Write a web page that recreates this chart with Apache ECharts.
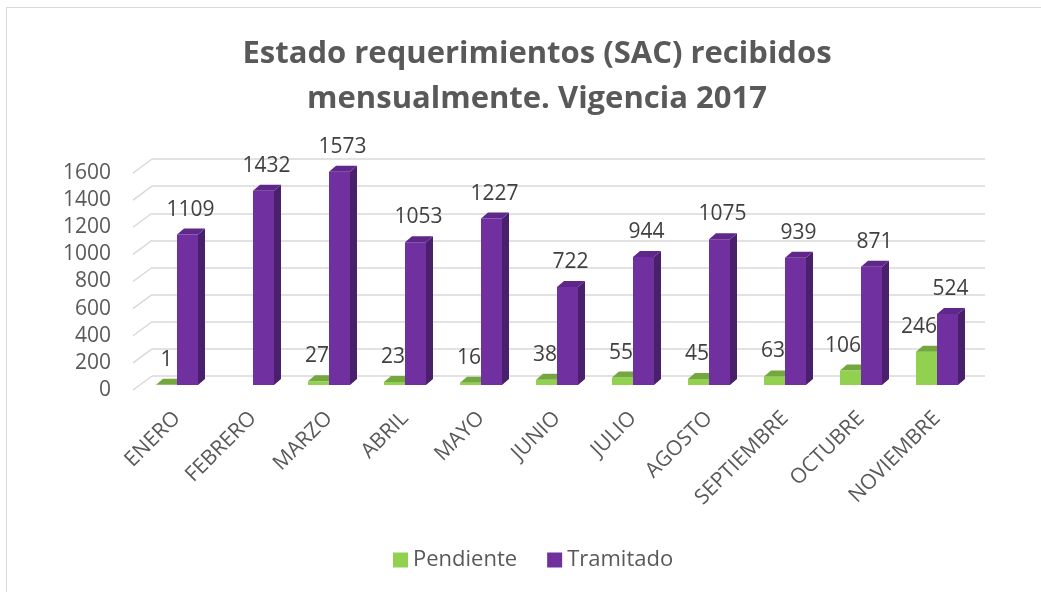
<!DOCTYPE html>
<html><head><meta charset="utf-8">
<script src="https://cdn.jsdelivr.net/npm/echarts@6/dist/echarts.min.js"></script>
<style>
html,body{margin:0;padding:0;background:#fff;}
#frame{position:absolute;left:6px;top:7px;width:1100px;height:700px;border-left:1.5px solid #D9D9D9;border-top:1.5px solid #D9D9D9;}
#c{position:absolute;left:0;top:0;width:1041px;height:592px;}
</style></head>
<body><div id="frame"></div><div id="c"></div>
<script>
const titleText = 'Estado requerimientos (SAC) recibidos\nmensualmente. Vigencia 2017';
const categories = ['ENERO','FEBRERO','MARZO','ABRIL','MAYO','JUNIO','JULIO','AGOSTO','SEPTIEMBRE','OCTUBRE','NOVIEMBRE'];
const pendiente = [1, null, 27, 23, 16, 38, 55, 45, 63, 106, 246];
const tramitado = [1109, 1432, 1573, 1053, 1227, 722, 944, 1075, 939, 871, 524];
const yTicks = [0, 200, 400, 600, 800, 1000, 1200, 1400, 1600];
const seriesNames = ['Pendiente', 'Tramitado'];

const FONT = '"Open Sans", sans-serif';
const colors = {
  Pendiente: {front:'#92D050', side:'#6F9E3A', top:'#74A83F'},
  Tramitado: {front:'#7030A0', side:'#4A1F6B', top:'#5E2789'}
};
const BAR_W = 21, DX = 7, DY = -6, LBL = 21;

function bar3d(name, side) {
  const c = colors[name];
  return function(params, api) {
    const v = api.value(1);
    if (v == null || isNaN(v)) return null;
    const idx = api.value(0);
    const base = api.coord([idx, 0]);
    const top = api.coord([idx, v]);
    const x0 = side === 'left' ? base[0] - BAR_W : base[0];
    const x1 = x0 + BAR_W;
    const yb = base[1], yt = top[1];
    const s = String(v);
    const w = s.length * LBL * 0.572;
    let lx = (x0 + x1) / 2 + (side === 'left' ? 0 : 3);
    if (side === 'left') lx = Math.min(lx, base[0] - w / 2);
    return {
      type: 'group',
      children: [
        {type:'rect', shape:{x:x0, y:yt, width:BAR_W, height:Math.max(yb-yt,0)}, style:{fill:c.front}},
        {type:'polygon', shape:{points:[[x1,yb],[x1+DX,yb+DY],[x1+DX,yt+DY],[x1,yt]]}, style:{fill:c.side}},
        {type:'polygon', shape:{points:[[x0,yt],[x0+DX,yt+DY],[x1+DX,yt+DY],[x1,yt]]}, style:{fill:c.top}},
        {type:'text', x:lx, y:yt - 25,
         style:{text:s, fill:'#404040', font:LBL + 'px ' + FONT, align:'center', verticalAlign:'middle'}}
      ]
    };
  };
}

const chart = echarts.init(document.getElementById('c'), null, {renderer:'canvas'});
chart.setOption({
  animation: false,
  backgroundColor: 'transparent',
  title: {
    text: titleText, left: 532, textAlign: 'center', top: 27,
    textStyle: {fontFamily: FONT, fontWeight: 'bold', fontSize: 31, color: '#595959', lineHeight: 45}
  },
  legend: {
    data: seriesNames, left: 388, top: 544, icon: 'rect', itemWidth: 15, itemHeight: 15, itemGap: 30,
    textStyle: {fontFamily: FONT, fontSize: 22, color: '#595959'}
  },
  grid: [
    {left: 152, right: 56, top: 159, bottom: 216},   // back wall
    {left: 139, right: 66, top: 168, bottom: 207},   // bars
    {left: 133, right: 66, top: 173, bottom: 202}    // front labels
  ],
  xAxis: [
    {gridIndex: 0, type: 'value', min: 0, max: 1, show: false},
    {gridIndex: 1, type: 'category', data: categories,
     axisLine: {show: false}, axisTick: {show: false},
     axisLabel: {interval: 0, rotate: 45, margin: 30, fontFamily: FONT, fontSize: 21, color: '#595959'}},
    {gridIndex: 2, type: 'value', min: 0, max: 1, show: false}
  ],
  yAxis: [
    {gridIndex: 0, type: 'value', min: 0, max: 1600, interval: 200,
     axisLabel: {show: false}, axisLine: {show: false}, axisTick: {show: false},
     splitLine: {lineStyle: {color: '#D9D9D9', width: 1.5}}},
    {gridIndex: 1, type: 'value', min: 0, max: 1600, interval: 200, show: false},
    {gridIndex: 2, type: 'value', min: 0, max: 1600, interval: 200,
     axisLine: {show: false}, axisTick: {show: false}, splitLine: {show: false},
     axisLabel: {margin: 22, fontFamily: FONT, fontSize: 21, color: '#595959', formatter: v => String(v)}}
  ],
  series: [
    {type: 'custom', name: 'wall', xAxisIndex: 2, yAxisIndex: 2, silent: true, clip: false,
     data: yTicks.map(v => [0, v]),
     renderItem: function(params, api) {
       const p = api.coord([0, api.value(1)]);
       return {type: 'line', shape: {x1: p[0], y1: p[1], x2: p[0] + 19, y2: p[1] - 14},
               style: {stroke: '#D9D9D9', lineWidth: 1.5}};
     }},
    {type: 'custom', name: 'Pendiente', xAxisIndex: 1, yAxisIndex: 1, clip: false,
     itemStyle: {color: colors.Pendiente.front},
     data: pendiente.map((v, i) => [i, v]), renderItem: bar3d('Pendiente', 'left')},
    {type: 'custom', name: 'Tramitado', xAxisIndex: 1, yAxisIndex: 1, clip: false,
     itemStyle: {color: colors.Tramitado.front},
     data: tramitado.map((v, i) => [i, v]), renderItem: bar3d('Tramitado', 'right')}
  ]
});
</script>
</body></html>
